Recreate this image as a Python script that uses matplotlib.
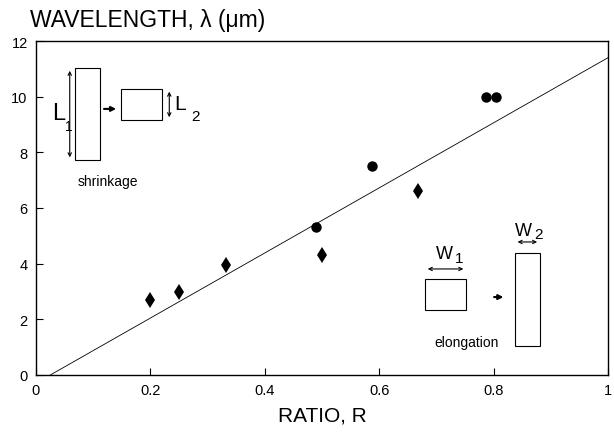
import numpy as np
import matplotlib.pyplot as plt
from matplotlib.patches import Rectangle

plt.rcParams['font.family'] = ['Liberation Sans', 'DejaVu Sans']

# measured points
diamond_r = [0.2, 0.25, 0.333, 0.5, 0.667]
diamond_wl = [2.7, 3.0, 3.95, 4.3, 6.6]
circle_r = [0.49, 0.587, 0.787, 0.805]
circle_wl = [5.3, 7.5, 10.0, 10.0]

# fitted line end points
fit_r = [0.025, 1.0]
fit_wl = [0.0, 11.4]

xticks = [0, 0.2, 0.4, 0.6, 0.8, 1]
xticklabels = ['0', '0.2', '0.4', '0.6', '0.8', '1']
yticks = [0, 2, 4, 6, 8, 10, 12]

fig = plt.figure(figsize=(6.14, 4.35), dpi=100)
ax = fig.add_axes([36 / 614, 1 - 376 / 435, 572 / 614, 334 / 435])

ax.plot(fit_r, fit_wl, color='black', lw=0.6)
ax.plot(diamond_r, diamond_wl, 'd', color='black', ms=8, mew=0)
ax.plot(circle_r, circle_wl, 'o', color='black', ms=7.5, mew=0)

ax.set_xlim(0, 1)
ax.set_ylim(0, 12)
ax.set_xticks(xticks)
ax.set_xticklabels(xticklabels)
ax.set_yticks(yticks)
ax.tick_params(direction='in', length=5, width=0.8, labelsize=10.5, pad=6)
for s in ax.spines.values():
    s.set_linewidth(1.0)

ax.set_xlabel('RATIO, R', fontsize=15, labelpad=6)
fig.text(30 / 614, 1 - 20 / 435, 'WAVELENGTH, \u03bb (\u03bcm)', fontsize=16.5,
         va='center', ha='left')

# shrinkage sketch
rk = dict(fill=False, lw=0.8, ec='black')
ax.add_patch(Rectangle((0.068, 7.72), 0.044, 3.31, **rk))
ax.add_patch(Rectangle((0.149, 9.16), 0.071, 1.12, **rk))
ax.annotate('', xy=(0.059, 7.72), xytext=(0.059, 11.03),
            arrowprops=dict(arrowstyle='<->', lw=0.8, mutation_scale=6))
ax.annotate('', xy=(0.233, 9.16), xytext=(0.233, 10.28),
            arrowprops=dict(arrowstyle='<->', lw=0.8, mutation_scale=6))
ax.annotate('', xy=(0.145, 9.56), xytext=(0.114, 9.56),
            arrowprops=dict(arrowstyle='-|>', lw=1.5, mutation_scale=7, color='black'))
ax.text(0.040, 9.4, 'L', fontsize=17, ha='center', va='center')
ax.text(0.057, 8.95, '1', fontsize=10, ha='center', va='center')
ax.text(0.252, 9.75, 'L', fontsize=15, ha='center', va='center')
ax.text(0.278, 9.3, '2', fontsize=11, ha='center', va='center')
ax.text(0.126, 6.97, 'shrinkage', fontsize=10, ha='center', va='center')

# elongation sketch
ax.add_patch(Rectangle((0.680, 2.34), 0.072, 1.11, **rk))
ax.add_patch(Rectangle((0.837, 1.04), 0.044, 3.34, **rk))
ax.annotate('', xy=(0.680, 3.81), xytext=(0.752, 3.81),
            arrowprops=dict(arrowstyle='<->', lw=0.8, mutation_scale=6))
ax.annotate('', xy=(0.837, 4.78), xytext=(0.881, 4.78),
            arrowprops=dict(arrowstyle='<->', lw=0.8, mutation_scale=6))
ax.annotate('', xy=(0.822, 2.80), xytext=(0.796, 2.80),
            arrowprops=dict(arrowstyle='-|>', lw=1.5, mutation_scale=7, color='black'))
ax.text(0.714, 4.35, 'W', fontsize=13, ha='center', va='center')
ax.text(0.740, 4.2, '1', fontsize=11, ha='center', va='center')
ax.text(0.853, 5.2, 'W', fontsize=13, ha='center', va='center')
ax.text(0.879, 5.05, '2', fontsize=11, ha='center', va='center')
ax.text(0.752, 1.19, 'elongation', fontsize=10, ha='center', va='center')

fig.savefig('out.png', dpi=100)
